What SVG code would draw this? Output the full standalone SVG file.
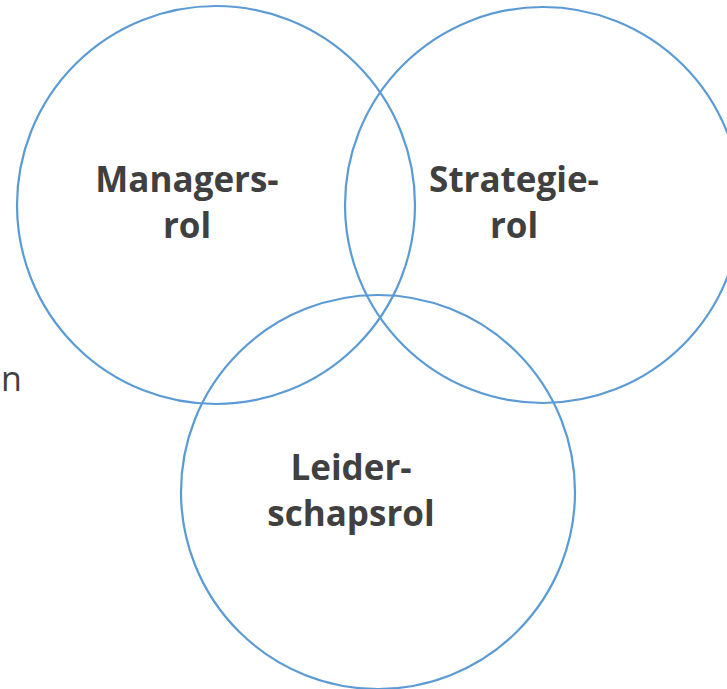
<svg xmlns="http://www.w3.org/2000/svg" width="727" height="689" viewBox="0 0 727 689">
  <style>
    .c { fill: none; stroke: #5B9BD5; stroke-width: 2.2; }
    .t { font-family: "Open Sans", "DejaVu Sans", sans-serif; font-weight: bold; font-size: 35px; fill: #404040; text-anchor: middle; }
    .s { font-family: "Open Sans", "DejaVu Sans", sans-serif; font-size: 34px; fill: #404040; }
  </style>
  <rect width="727" height="689" fill="#ffffff"/>
  <text class="s" x="1" y="391">n</text>
  <g id="managersrol">
    <circle class="c" cx="216" cy="205" r="199"/>
    <text class="t" x="187" y="192">Managers-</text>
    <text class="t" x="187" y="238">rol</text>
  </g>
  <g id="strategierol">
    <circle class="c" cx="543" cy="205" r="198"/>
    <text class="t" x="514" y="192">Strategie-</text>
    <text class="t" x="514" y="238">rol</text>
  </g>
  <g id="leiderschapsrol">
    <circle class="c" cx="378" cy="492" r="197"/>
    <text class="t" x="351" y="480">Leider-</text>
    <text class="t" x="351" y="526">schapsrol</text>
  </g>
  <g id="connectors"></g>
</svg>
